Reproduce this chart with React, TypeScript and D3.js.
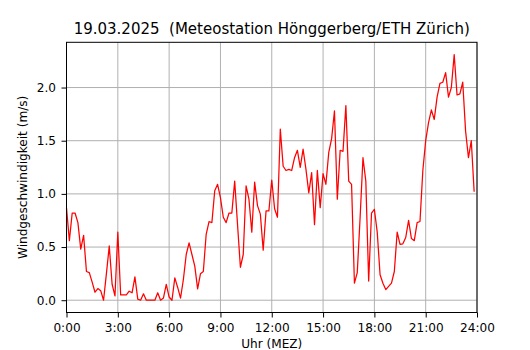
import React, { useEffect, useRef } from 'react';
import * as d3 from 'd3';

// 10-minute wind speed values, 0:00 .. 23:50
const windSpeed = [
  0.87, 0.56, 0.82, 0.82, 0.73, 0.48, 0.61, 0.27, 0.26, 0.17, 0.075, 0.11,
  0.09, 0.0, 0.25, 0.51, 0.15, 0.04, 0.64, 0.05, 0.05, 0.05, 0.085, 0.07,
  0.22, 0.01, 0.0, 0.06, 0.0, 0.0, 0.0, 0.0, 0.07, 0.0, 0.02, 0.15,
  0.03, 0.0, 0.21, 0.12, 0.02, 0.195, 0.43, 0.54, 0.43, 0.32, 0.107, 0.25,
  0.27, 0.62, 0.74, 0.73, 1.03, 1.09, 0.965, 0.78, 0.73, 0.82, 0.82, 1.12,
  0.71, 0.31, 0.43, 1.075, 0.95, 0.64, 1.11, 0.89, 0.81, 0.47, 0.84, 0.84,
  1.13, 0.86, 0.78, 1.61, 1.26, 1.22, 1.23, 1.22, 1.34, 1.41, 1.25, 1.42,
  1.23, 1.01, 1.2, 0.71, 1.22, 0.87, 1.19, 1.09, 1.39, 1.52, 1.78, 0.95,
  1.41, 1.4, 1.83, 1.12, 1.09, 0.16, 0.26, 0.78, 1.34, 1.12, 0.18, 0.82,
  0.855, 0.64, 0.24, 0.16, 0.1, 0.13, 0.16, 0.27, 0.64, 0.525, 0.53, 0.59,
  0.75, 0.58, 0.56, 0.73, 0.74, 1.22, 1.5, 1.67, 1.79, 1.7, 1.91, 2.04,
  2.05, 2.14, 1.91, 2.0, 2.31, 1.93, 1.94, 2.05, 1.59, 1.34, 1.5, 1.02,
];
const stepMinutes = 10;
const xTicks = [0, 180, 360, 540, 720, 900, 1080, 1260, 1440];
const yTicks = [0, 0.5, 1.0, 1.5, 2.0];
const title = '19.03.2025  (Meteostation Hönggerberg/ETH Zürich)';
const xLabel = 'Uhr (MEZ)';
const yLabel = 'Windgeschwindigkeit (m/s)';

export default function App() {
  const ref = useRef<SVGSVGElement>(null);

  useEffect(() => {
    const width = 530;
    const height = 350;
    const margin = { top: 42.3, right: 53, bottom: 37.5, left: 66.5 };
    const gw = width - margin.left - margin.right;
    const gh = height - margin.top - margin.bottom;
    const font = 'DejaVu Sans, sans-serif';
    const fs = '12.1px';

    const root = d3.select(ref.current);
    root.selectAll('*').remove();

    const svg = root.append('g')
      .attr('transform', `translate(${margin.left},${margin.top})`);

    const data = windSpeed.map((v, i) => ({ t: i * stepMinutes, v }));

    const x = d3.scaleLinear().domain([0, 1440]).range([0, gw]);
    const yMax = d3.max(windSpeed) as number;
    const pad = yMax * 0.05;
    const y = d3.scaleLinear().domain([-pad, yMax + pad]).range([gh, 0]);

    // grid
    svg.append('g')
      .selectAll('line')
      .data(xTicks)
      .join('line')
      .attr('x1', d => x(d)).attr('x2', d => x(d))
      .attr('y1', 0).attr('y2', gh)
      .attr('stroke', '#b0b0b0').attr('stroke-width', 1);
    svg.append('g')
      .selectAll('line')
      .data(yTicks)
      .join('line')
      .attr('x1', 0).attr('x2', gw)
      .attr('y1', d => y(d)).attr('y2', d => y(d))
      .attr('stroke', '#b0b0b0').attr('stroke-width', 1);

    // data line
    const line = d3.line<{ t: number; v: number }>()
      .x(d => x(d.t))
      .y(d => y(d.v));
    svg.append('path')
      .datum(data)
      .attr('fill', 'none')
      .attr('stroke', 'red')
      .attr('stroke-width', 1.25)
      .attr('stroke-linejoin', 'round')
      .attr('d', line);

    // axes
    const xAxis = svg.append('g')
      .attr('transform', `translate(0,${gh})`)
      .call(d3.axisBottom(x)
        .tickValues(xTicks)
        .tickSize(5)
        .tickFormat(d => `${Math.round(+d / 60)}:00`));
    const yAxis = svg.append('g')
      .call(d3.axisLeft(y)
        .tickValues(yTicks)
        .tickSize(5)
        .tickPadding(5.5)
        .tickFormat(d3.format('.1f')));

    [xAxis, yAxis].forEach(ax => {
      ax.select('.domain').remove();
      ax.selectAll('line').attr('stroke', '#000').attr('stroke-width', 1);
      ax.selectAll('text')
        .attr('fill', '#000')
        .style('font-family', font)
        .style('font-size', fs);
    });
    // baseline of the hour labels
    xAxis.selectAll('text').attr('y', 332 - (margin.top + gh)).attr('dy', null);

    // frame
    svg.append('rect')
      .attr('x', 0).attr('y', 0)
      .attr('width', gw).attr('height', gh)
      .attr('fill', 'none')
      .attr('stroke', '#000')
      .attr('stroke-width', 1);

    // labels
    root.append('text')
      .attr('x', margin.left + gw / 2)
      .attr('y', 34)
      .attr('text-anchor', 'middle')
      .style('font-family', font)
      .style('font-size', '15px')
      .style('white-space', 'pre')
      .text(title);

    root.append('text')
      .attr('x', margin.left + gw / 2)
      .attr('y', 347.5)
      .attr('text-anchor', 'middle')
      .style('font-family', font)
      .style('font-size', fs)
      .text(xLabel);

    root.append('text')
      .attr('transform', `translate(26.5,${margin.top + gh / 2}) rotate(-90)`)
      .attr('text-anchor', 'middle')
      .style('font-family', font)
      .style('font-size', fs)
      .text(yLabel);
  }, []);

  return (
    <svg
      ref={ref}
      width={530}
      height={350}
      style={{ position: 'absolute', left: 0, top: 0, background: '#fff' }}
    />
  );
}
